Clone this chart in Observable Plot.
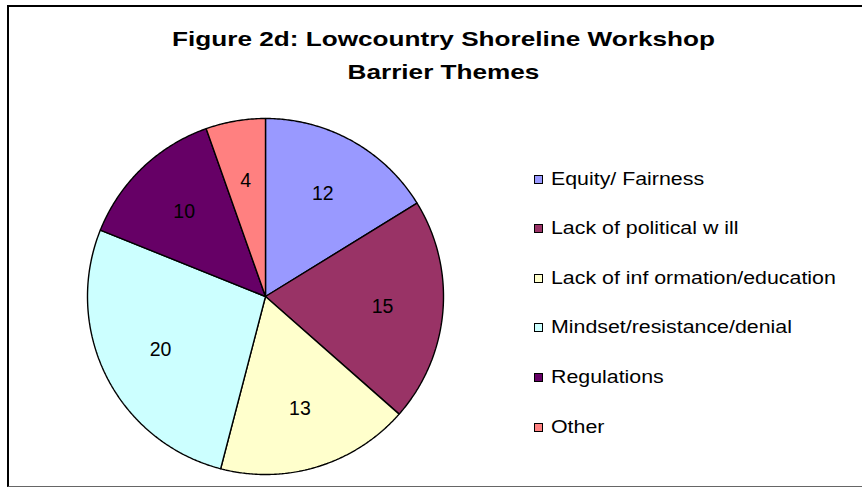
<!DOCTYPE html>
<html><head><meta charset="utf-8">
<script src="https://cdn.jsdelivr.net/npm/d3@7"></script>
<script src="https://cdn.jsdelivr.net/npm/@observablehq/plot@0.6"></script>
<style>
body{margin:0;background:#fff;overflow:hidden;font-family:Arial,"Liberation Sans",sans-serif}
#wrap{position:relative;width:862px;height:490px;overflow:hidden;background:#fff}
#frame{position:absolute;left:7px;top:5px;width:900px;height:482px;border-top:2px solid #000;border-left:2px solid #000;border-bottom:1px solid #666;box-sizing:border-box}
#chart{position:absolute;left:0;top:0}
#title{position:absolute;left:0;width:887px;top:22px;text-align:center;font-weight:bold;font-size:21px;line-height:33px;color:#000;transform:scaleX(1.245);transform-origin:443.5px 0}
#legend{position:absolute;left:534px;top:0}
.row{position:absolute;left:0;height:24px;display:flex;align-items:center;white-space:nowrap}
.sw{width:7px;height:7px;border:1px solid #000;margin-right:8px;flex:none}
.lt{font-size:17.5px;color:#000;transform:scaleX(1.22);transform-origin:0 50%}
</style></head>
<body>
<div id="wrap">
  <div id="frame"></div>
  <div id="chart"></div>
  <div id="title">Figure 2d: Lowcountry Shoreline Workshop<br>Barrier Themes</div>
  <div id="legend"></div>
</div>
<script>
const categories = ["Equity/ Fairness", "Lack of political w ill", "Lack of inf ormation/education", "Mindset/resistance/denial", "Regulations", "Other"];
const values = [12, 15, 13, 20, 10, 4];
const colors = ["#9999FF", "#993366", "#FFFFCC", "#CCFFFF", "#660066", "#FF8080"];

const data = categories.map((c, i) => ({cat: c, value: values[i]}));
const arcs = d3.pie().sort(null).value(d => d.value)(data);

// polygon outline of each slice (unit circle), for Plot.line with fill
const pts = [];
arcs.forEach(a => {
  const c = a.data.cat;
  pts.push({cat: c, x: 0, y: 0});
  const n = Math.max(2, Math.ceil((a.endAngle - a.startAngle) / (Math.PI / 360)));
  for (let k = 0; k <= n; k++) {
    const t = a.startAngle + (a.endAngle - a.startAngle) * k / n;
    pts.push({cat: c, x: Math.sin(t), y: Math.cos(t)});
  }
  pts.push({cat: c, x: 0, y: 0});
});
const labelR = 0.66;
const labels = arcs.map(a => {
  const m = (a.startAngle + a.endAngle) / 2;
  return {text: String(a.data.value), x: labelR * Math.sin(m), y: labelR * Math.cos(m)};
});

const cx = 265, cy = 296, R = 178;
const chart = Plot.plot({
  width: 862, height: 490,
  margin: 0,
  style: {background: "transparent", fontFamily: "Arial, 'Liberation Sans', sans-serif"},
  x: {domain: [-1, 1], range: [cx - R, cx + R], axis: null},
  y: {domain: [-1, 1], range: [cy + R, cy - R], axis: null},
  color: {domain: categories, range: colors},
  marks: [
    Plot.line(pts, {x: "x", y: "y", z: "cat", fill: "cat", stroke: "#000", strokeWidth: 1.4, curve: "linear", strokeLinejoin: "miter"}),
    Plot.text(labels, {x: "x", y: "y", text: "text", fontSize: 19.5, fill: "#000"})
  ]
});
document.getElementById("chart").appendChild(chart);

const legend = document.getElementById("legend");
const rowCenters0 = 179, rowGap = 49.6;
categories.forEach((c, i) => {
  const row = document.createElement("div");
  row.className = "row";
  row.style.top = (rowCenters0 + i * rowGap - 12) + "px";
  const sw = document.createElement("div");
  sw.className = "sw";
  sw.style.background = colors[i];
  const t = document.createElement("span");
  t.className = "lt";
  t.textContent = c;
  row.appendChild(sw); row.appendChild(t);
  legend.appendChild(row);
});
</script>
</body></html>
